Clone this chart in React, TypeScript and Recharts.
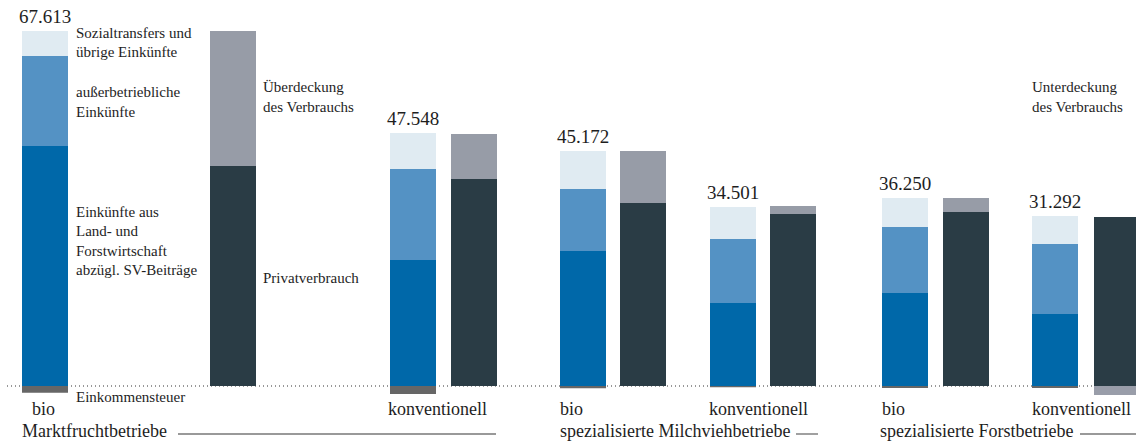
import React from 'react';
import { BarChart, Bar, XAxis, YAxis, LabelList } from 'recharts';

// income / consumption per farm, EUR
const groups = ['Marktfruchtbetriebe', 'spezialisierte Milchviehbetriebe', 'spezialisierte Forstbetriebe'];
const farmTypes = ['bio', 'konventionell', 'bio', 'konventionell', 'bio', 'konventionell'];
const totals = [67613, 47548, 45172, 34501, 36250, 31292];
const landForst = [45710, 24000, 25710, 15810, 17710, 13710];
const ausserbetrieblich = [17140, 17330, 11810, 12190, 12570, 13330];
const sozialtransfers = [4760, 6860, 7240, 6090, 5520, 5330];
const einkommensteuer = [-1300, -1500, -450, -250, -400, -400];
const privatverbrauch = [41900, 39420, 34850, 32760, 33140, 32190];
const ueberdeckung = [25710, 8570, 9900, 1520, 2670, 0];
const unterdeckung = [0, 0, 0, 0, 0, -1700];

// layout
const W = 1136;
const H = 441;
const CHART_H = 400;
const BAR = 46;
const pairCenter = [139, 443.5, 613, 763, 935.5, 1086];
const pairGap = [142, 15, 14, 14, 15, 16];
const Y_DOMAIN: [number, number] = [-2666, 73517];

const FONT = "'Liberation Serif', 'DejaVu Serif', serif";
const TEXT = '#1e1e1e';

const C = {
  sozial: '#e0ebf2',
  ausser: '#5492c4',
  land: '#0068a9',
  steuer: '#666666',
  privat: '#2a3c45',
  ueber: '#979ca7',
  unter: '#999da9',
};

const fmt = (v: any) => String(v).replace(/\B(?=(\d{3})+(?!\d))/g, '.');

function Pair({ i }: { i: number }) {
  const row = [
    {
      name: farmTypes[i],
      total: totals[i],
      land: landForst[i],
      ausser: ausserbetrieblich[i],
      sozial: sozialtransfers[i],
      steuer: einkommensteuer[i],
      privat: privatverbrauch[i],
      ueber: ueberdeckung[i],
      unter: unterdeckung[i],
    },
  ];
  const width = BAR * 2 + pairGap[i] + 40;
  return (
    <div style={{ position: 'absolute', left: pairCenter[i] - width / 2, top: 0 }}>
      <BarChart
        width={width}
        height={CHART_H}
        data={row}
        margin={{ top: 0, right: 0, bottom: 0, left: 0 }}
        barCategoryGap={0}
        barGap={pairGap[i]}
        stackOffset="sign"
      >
        <XAxis dataKey="name" hide />
        <YAxis hide domain={Y_DOMAIN} allowDataOverflow />
        <Bar dataKey="land" stackId="inc" barSize={BAR} fill={C.land} isAnimationActive={false} />
        <Bar dataKey="ausser" stackId="inc" barSize={BAR} fill={C.ausser} isAnimationActive={false} />
        <Bar dataKey="sozial" stackId="inc" barSize={BAR} fill={C.sozial} isAnimationActive={false}>
          <LabelList
            dataKey="total"
            position="top"
            offset={8}
            formatter={fmt}
            fill={TEXT}
            fontSize={19}
            fontFamily={FONT}
          />
        </Bar>
        <Bar dataKey="steuer" stackId="inc" barSize={BAR} fill={C.steuer} isAnimationActive={false} />
        <Bar dataKey="privat" stackId="use" barSize={BAR} fill={C.privat} isAnimationActive={false} />
        <Bar dataKey="ueber" stackId="use" barSize={BAR} fill={C.ueber} isAnimationActive={false} />
        <Bar dataKey="unter" stackId="use" barSize={BAR} fill={C.unter} isAnimationActive={false} />
      </BarChart>
    </div>
  );
}

// annotation lines: [text, x, baseline]
const notes: [string, number, number][] = [
  ['Sozialtransfers und', 76, 38],
  ['übrige Einkünfte', 76, 57],
  ['außerbetriebliche', 76, 97],
  ['Einkünfte', 76, 116.5],
  ['Einkünfte aus', 76, 216.5],
  ['Land- und', 76, 236],
  ['Forstwirtschaft', 76, 255.5],
  ['abzügl. SV-Beiträge', 76, 275],
  ['Überdeckung', 263, 92],
  ['des Verbrauchs', 263, 112],
  ['Privatverbrauch', 263, 283],
  ['Einkommensteuer', 76, 402],
  ['Unterdeckung', 1032, 92],
  ['des Verbrauchs', 1032, 112],
];

const typeLabelX = [32, 388, 560, 709, 882, 1032];
const groupLabel: { x: number; lineFrom: number; lineTo: number }[] = [
  { x: 22, lineFrom: 178, lineTo: 496 },
  { x: 560, lineFrom: 796, lineTo: 818 },
  { x: 880, lineFrom: 1080, lineTo: 1136 },
];

export default function App() {
  return (
    <div style={{ position: 'absolute', left: 0, top: 0, width: W, height: H, overflow: 'hidden', background: '#fff' }}>
      <svg width={W} height={H} style={{ position: 'absolute', left: 0, top: 0 }}>
        <line x1={7} x2={W} y1={386} y2={386} stroke="#333" strokeWidth={1.2} strokeDasharray="1 3" />
      </svg>
      {totals.map((_, i) => (
        <Pair key={i} i={i} />
      ))}
      <svg width={W} height={H} style={{ position: 'absolute', left: 0, top: 0, pointerEvents: 'none' }} fontFamily={FONT}>
        {notes.map(([t, x, y], k) => (
          <text key={k} x={x} y={y} fontSize={15} fill={TEXT}>
            {t}
          </text>
        ))}
        {farmTypes.map((t, i) => (
          <text key={'t' + i} x={typeLabelX[i]} y={415} fontSize={18} fill={TEXT}>
            {t}
          </text>
        ))}
        {groups.map((g, k) => (
          <g key={'g' + k}>
            <text x={groupLabel[k].x} y={437} fontSize={18} fill={TEXT}>
              {g}
            </text>
            <line x1={groupLabel[k].lineFrom} x2={groupLabel[k].lineTo} y1={434} y2={434} stroke="#777" strokeWidth={1.4} />
          </g>
        ))}
      </svg>
    </div>
  );
}
